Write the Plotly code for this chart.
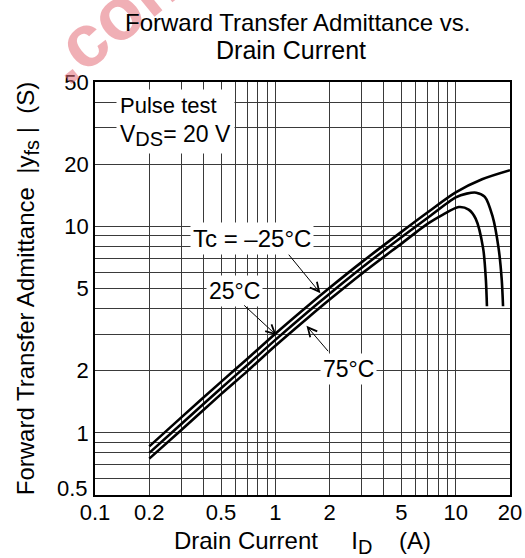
import numpy as np
import plotly.graph_objects as go

# ---- data ----
id_m25 = [0.2, 0.3, 0.5, 0.7, 1, 1.5, 2, 3, 5, 7, 10, 14, 20]
yfs_m25 = [0.86, 1.185, 1.765, 2.285, 3.02, 4.09, 5.04, 6.69, 9.4, 11.7, 14.6, 16.9, 18.7]

id_25 = [0.2, 0.3, 0.5, 0.7, 1, 1.5, 2, 3, 5, 7, 10, 11.5, 13, 14.5, 16, 17.3, 18, 18.3]
yfs_25 = [0.80, 1.10, 1.645, 2.13, 2.82, 3.83, 4.72, 6.28, 8.85, 11.0, 13.8, 14.4, 14.55, 13.9, 11.2, 7.8, 5.5, 4.1]

id_75 = [0.2, 0.3, 0.5, 0.7, 1, 1.5, 2, 3, 5, 7, 8.5, 10.4, 11.8, 12.9, 14.2, 14.7, 14.9]
yfs_75 = [0.75, 1.03, 1.54, 1.99, 2.64, 3.58, 4.42, 5.88, 8.25, 10.3, 11.4, 12.4, 12.05, 10.9, 7.8, 5.5, 4.1]

x_ticks = [0.1, 0.2, 0.5, 1, 2, 5, 10, 20]
x_tick_text = ["0.1", "0.2", "0.5", "1", "2", "5", "10", "20"]
x_minor = [0.3, 0.4, 0.6, 0.7, 0.8, 0.9, 3, 4, 6, 7, 8, 9]
y_ticks = [0.5, 1, 2, 5, 10, 20, 50]
y_tick_text = ["", "1", "2", "5", "10", "20", "50"]
y_minor = [0.6, 0.7, 0.8, 0.9, 3, 4, 6, 7, 8, 9, 30, 40]

FONT = "Liberation Sans, Arial, sans-serif"
GRID = "#3a3a3a"
SUB = "<sub><span style='font-size:20px'>{}</span></sub>"

fig = go.Figure()
for xs, ys in [(id_m25, yfs_m25), (id_25, yfs_25), (id_75, yfs_75)]:
    fig.add_trace(go.Scatter(x=xs, y=ys, mode="lines",
                             line=dict(color="black", width=2.6, shape="spline", smoothing=0.8),
                             showlegend=False, hoverinfo="skip"))

fig.update_xaxes(type="log", range=[-1, np.log10(20)],
                 tickvals=x_ticks, ticktext=x_tick_text,
                 showgrid=True, gridcolor=GRID, gridwidth=1,
                 minor=dict(tickvals=x_minor, showgrid=True, gridcolor=GRID, gridwidth=1, ticks=""),
                 showline=True, linecolor="black", linewidth=1.5, mirror=True,
                 ticks="", zeroline=False, automargin=False, ticklabelstandoff=-3,
                 tickfont=dict(family=FONT, size=22, color="black"),
                 title=dict(text="Drain Current\u00a0\u00a0\u00a0\u00a0\u00a0I" + SUB.format("D") + "\u00a0\u00a0\u00a0\u00a0(A)",
                            font=dict(family=FONT, size=24, color="black"), standoff=8))
fig.update_yaxes(type="log", range=[np.log10(0.5), np.log10(50)],
                 tickvals=y_ticks, ticktext=y_tick_text,
                 showgrid=True, gridcolor=GRID, gridwidth=1,
                 minor=dict(tickvals=y_minor, showgrid=True, gridcolor=GRID, gridwidth=1, ticks=""),
                 showline=True, linecolor="black", linewidth=1.5, mirror=True,
                 ticks="", zeroline=False, automargin=False,
                 tickfont=dict(family=FONT, size=22, color="black"),
                 title=dict(text="Forward Transfer Admittance\u00a0\u00a0|y" + SUB.format("fs") + "\u00a0|\u00a0\u00a0(S)",
                            font=dict(family=FONT, size=24, color="black"), standoff=23))

ann_font = dict(family=FONT, size=24, color="black")
annotations = [
    # watermark of the scanned source
    dict(text="<b>.com</b>", xref="paper", yref="paper", x=(118 - 95) / 415, y=1 + (82 - 13) / 413,
         xanchor="center", yanchor="middle",
         showarrow=False, textangle=-39, font=dict(family=FONT, size=74, color="rgba(228,110,120,0.55)")),
    # title, two lines
    dict(text="Forward Transfer Admittance vs.", xref="paper", yref="paper",
         x=(297.5 - 95) / 415, y=1 + (82 - 22.5) / 413, xanchor="center", yanchor="middle",
         showarrow=False, font=dict(family=FONT, size=24, color="black")),
    dict(text="Drain Current", xref="paper", yref="paper",
         x=(290.5 - 95) / 415, y=1 + (82 - 50.5) / 413, xanchor="center", yanchor="middle",
         showarrow=False, font=dict(family=FONT, size=25, color="black")),
    # lowest y tick label, lifted off the corner
    dict(text="0.5", xref="paper", yref="y", x=0, y=np.log10(0.5), xanchor="right", yanchor="middle",
         xshift=-5, yshift=7, showarrow=False, font=dict(family=FONT, size=22, color="black")),
    dict(text="Pulse test<br><span style='font-size:23px'>V" + SUB.format("DS") + "= 20 V</span>",
         x=-0.884, y=1.665, xref="x", yref="y",
         xanchor="left", yanchor="top", align="left", showarrow=False,
         bgcolor="white", borderpad=3, font=dict(family=FONT, size=22, color="black")),
    dict(text="Tc = \u201325\u00b0C", x=-0.1316, y=0.942, xref="x", yref="y", showarrow=False,
         xanchor="center", yanchor="middle", bgcolor="white", borderpad=2, font=ann_font),
    dict(text="25\u00b0C", x=-0.2257, y=0.6845, xref="x", yref="y", showarrow=False,
         xanchor="center", yanchor="middle", bgcolor="white", borderpad=2, font=dict(family=FONT, size=23, color="black")),
    dict(text="75\u00b0C", x=0.405, y=0.3087, xref="x", yref="y", showarrow=False,
         xanchor="center", yanchor="middle", bgcolor="white", borderpad=2, font=dict(family=FONT, size=23, color="black")),
]
# arrows (tip, tail) in log10 data coordinates
arrows = [((0.250, 0.676), (0.0675, 0.870)),
          ((0.0066, 0.472), (-0.181, 0.624)),
          ((0.1726, 0.518), (0.300, 0.388))]
for (tx, ty), (sx, sy) in arrows:
    annotations.append(dict(text="", x=tx, y=ty, xref="x", yref="y", ax=sx, ay=sy,
                            axref="x", ayref="y", showarrow=True, arrowhead=5,
                            arrowsize=1.8, arrowwidth=1, arrowcolor="black"))

fig.update_layout(
    width=525, height=558,
    margin=dict(l=95, r=15, t=82, b=63, autoexpand=False),
    paper_bgcolor="white", plot_bgcolor="white",
    annotations=annotations,
)
fig.write_html("out.html", config={"displayModeBar": False},
               post_script="document.body.style.margin='0';")
